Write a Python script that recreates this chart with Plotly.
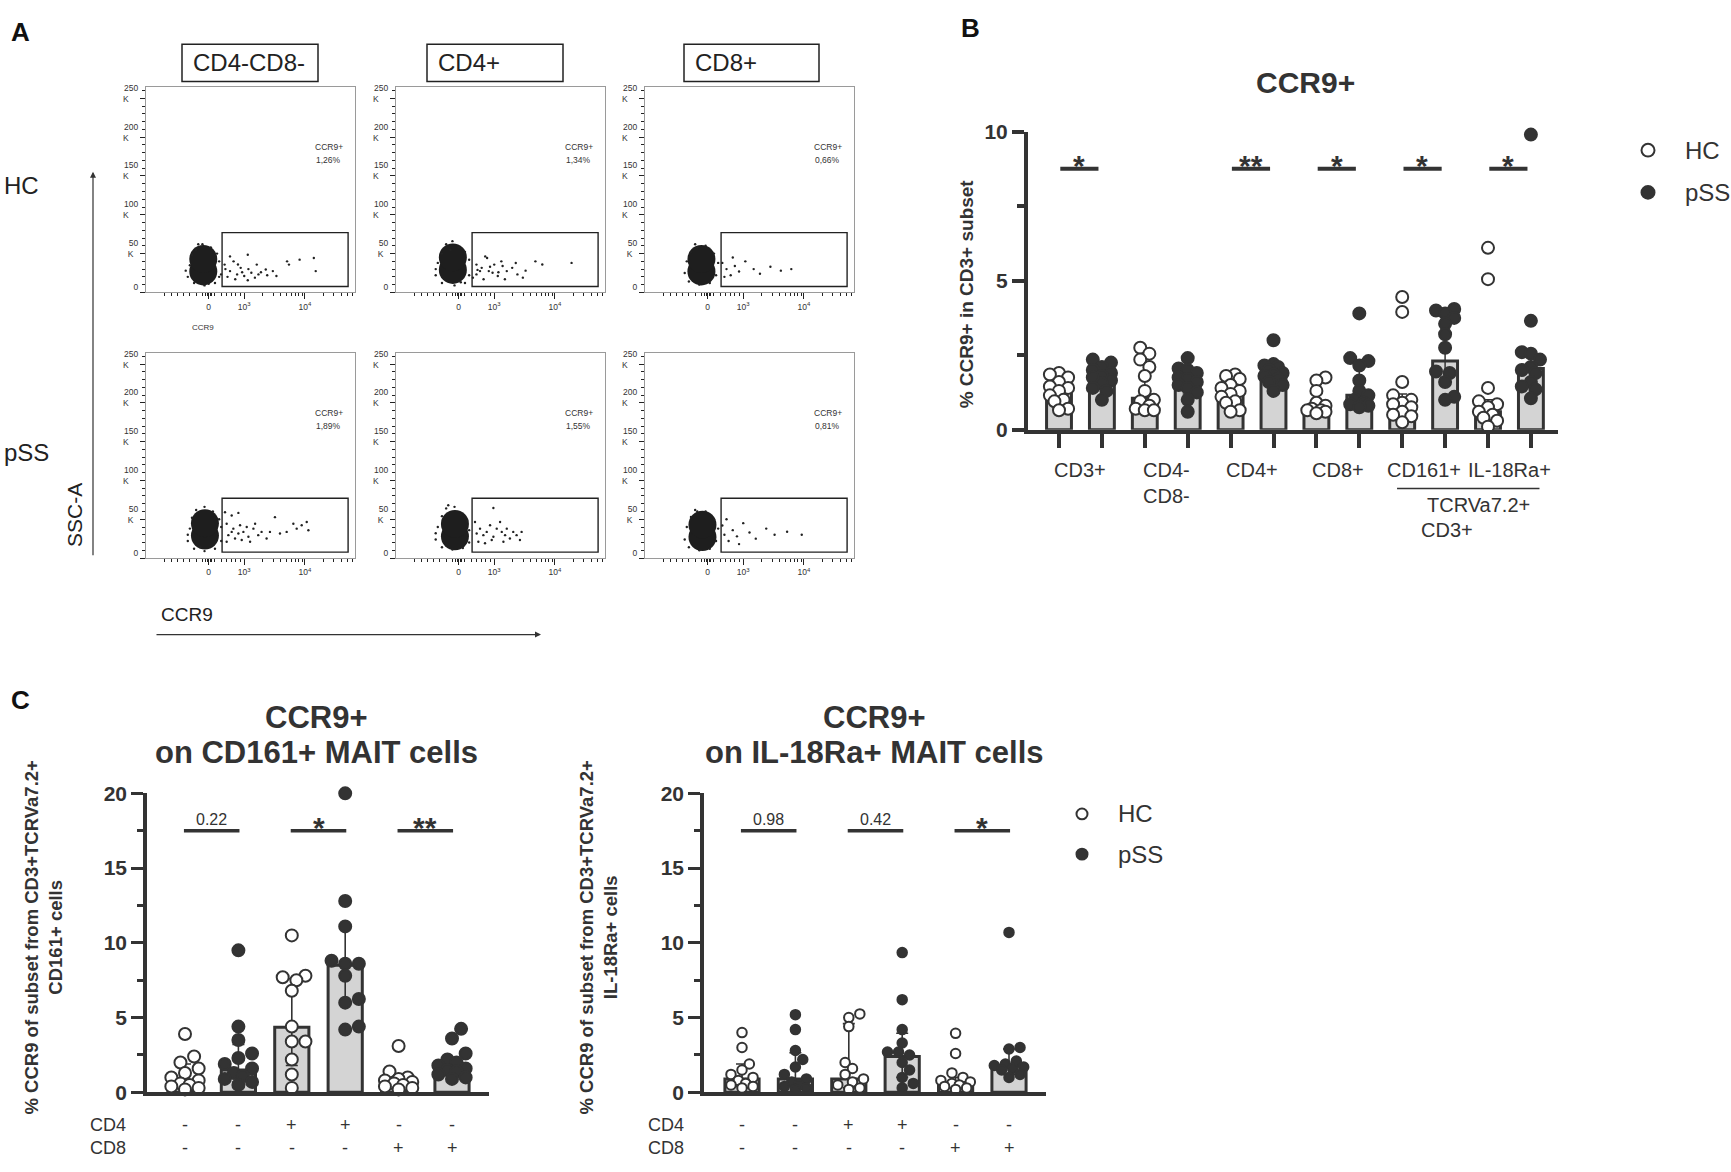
import plotly.graph_objects as go

W, H = 1731, 1172
DARK = '#333333'
BARFILL = '#d4d4d4'
FONT = 'Liberation Sans, Arial, sans-serif'

# ================= Panel A : flow cytometry (CCR9 vs SSC-A) =================
FLOW_COLUMNS = ['CD4-CD8-', 'CD4+', 'CD8+']
FLOW_ROWS = ['HC', 'pSS']
FLOW_PCT = ['1,26%', '1,34%', '0,66%', '1,89%', '1,55%', '0,81%']
FLOW_Y_TICKS = [0, 50, 100, 150, 200, 250]
FLOW_Y_LABELS = ['0', '50<br>K', '100<br>K', '150<br>K', '200<br>K', '250<br>K']
FLOW_X_TICKS = [30, 47, 76]
FLOW_X_LABELS = ['0', '10<sup>3</sup>', '10<sup>4</sup>']
FLOW_X_MINOR = [9, 12, 15, 18, 21, 24, 27, 28.6, 29.3, 30.7, 31.4, 33, 36, 38.5, 41, 43, 45,
                55.7, 60.8, 64.5, 67.3, 69.6, 71.5, 73.2, 74.7, 84.7, 89.8, 93.5, 96.3, 98.6]
GATE_X = [36.4, 96.7]
GATE_Y = [7.6, 77.0]
BLOB_X = [27.4, 27.2, 27.0, 28.2, 28.2, 27.5]
BLOB_Y = [35, 37, 35, 37, 36, 35]

EV1_X = [20, 21, 22, 24, 27, 31, 34, 35, 35, 33, 28, 23, 19, 25, 30,
         37.6, 40.2, 41.9, 43.6, 45.3, 47.0, 48.7, 50.4, 52.1, 53.8, 57.3, 60.7, 62.4, 67.5, 68.4,
         73.5, 80.3, 81.2, 40.2, 42.7, 48.7, 53.0, 35.9, 38, 39, 44, 46, 49, 55, 58]
EV1_Y = [20, 35, 48, 55, 62, 58, 50, 40, 20, 12, 9, 12, 28, 62, 11,
         35.8, 27.4, 40.0, 23.2, 31.6, 21.1, 48.5, 25.3, 19.0, 23.2, 29.5, 27.4, 21.1, 40.0, 35.8,
         42.2, 44.3, 27.4, 46.4, 16.9, 15.6, 35.8, 23.2, 30, 20, 36, 26, 30, 26, 22]
EV2_X = [19, 20, 22, 24, 27, 30, 33, 35, 35, 33, 28, 22, 19, 26, 31,
         38.5, 41.0, 43.6, 44.4, 47.0, 48.7, 50.4, 53.0, 55.6, 57.3, 58.1, 60.7, 66.7, 38.5, 41.9,
         46.2, 52.1, 42.7, 40.2, 36.8, 39, 45, 49, 51, 62, 70, 84]
EV2_Y = [22, 38, 50, 62, 66, 58, 52, 42, 22, 12, 9, 12, 30, 55, 13,
         23.2, 31.6, 44.3, 27.4, 35.8, 21.1, 40.0, 27.4, 31.6, 37.9, 23.2, 19.0, 40.0, 35.8, 16.9,
         25.3, 16.9, 46.4, 27.4, 19.0, 29, 33, 26, 34, 28, 36, 38]
EV3_X = [19, 20, 22, 25, 29, 33, 35, 34, 31, 26, 21, 24,
         37, 39, 41, 43, 45, 48, 52, 55, 60, 65, 70, 38, 42]
EV3_Y = [25, 40, 52, 58, 60, 50, 38, 22, 12, 10, 14, 62,
         38, 30, 22, 34, 27, 40, 30, 24, 33, 28, 30, 20, 45]
EV4_X = [20, 21, 22, 24, 28, 32, 35, 36, 36, 33, 28, 23, 20, 26,
         37.8, 41.0, 44.2, 38.6, 41.8, 45.0, 46.6, 48.2, 51.4, 53.7, 55.3, 57.7, 59.3, 61.7, 64.1,
         67.3, 70.5, 72.1, 74.5, 76.9, 77.7, 39.4, 42.6, 45.8, 49.0, 52.2, 41.0, 44.2, 38.6, 49.8]
EV4_Y = [22, 38, 52, 62, 66, 60, 50, 40, 22, 12, 9, 12, 30, 14,
         59.0, 54.8, 58.2, 44.3, 37.9, 42.2, 33.7, 40.0, 37.9, 29.5, 33.7, 25.3, 33.7, 52.7, 31.6,
         33.7, 44.3, 37.9, 42.2, 46.4, 35.8, 29.5, 25.3, 23.2, 27.4, 44.3, 33.7, 31.6, 21.1, 21.1]
EV5_X = [19, 20, 22, 24, 28, 31, 34, 35, 35, 32, 27, 22, 19, 25,
         38.6, 40.2, 41.8, 43.4, 45.0, 46.6, 46.6, 48.2, 49.8, 50.6, 52.2, 53.0, 54.5, 56.1, 57.7,
         59.3, 60.1, 39.4, 42.6, 45.8, 37.8, 51.4]
EV5_Y = [24, 40, 54, 64, 66, 56, 48, 36, 20, 13, 11, 14, 32, 68,
         31.6, 37.9, 29.5, 33.7, 42.2, 64.5, 27.4, 37.9, 46.4, 33.7, 29.5, 37.9, 25.3, 33.7, 29.5,
         23.2, 33.7, 21.1, 19.0, 23.2, 46.4, 21.1]
EV6_X = [19, 20, 22, 25, 29, 33, 35, 34, 31, 26, 21, 24,
         37, 38, 40, 42, 44, 47, 50, 53, 58, 62, 68, 75, 39, 45]
EV6_Y = [24, 40, 53, 60, 60, 50, 38, 22, 12, 10, 14, 62,
         42, 30, 22, 36, 28, 45, 33, 25, 38, 30, 34, 30, 50, 18]
FLOW_EVENTS = [(EV1_X, EV1_Y), (EV2_X, EV2_Y), (EV3_X, EV3_Y),
               (EV4_X, EV4_Y), (EV5_X, EV5_Y), (EV6_X, EV6_Y)]

# ================= Panel B : % CCR9+ in CD3+ subsets =================
B_CATS = ['CD3+', 'CD4-<br>CD8-', 'CD4+', 'CD8+', 'CD161+', 'IL-18Ra+']
B_HC_BAR = [1.3, 1.05, 1.3, 0.65, 0.75, 0.6]
B_PSS_BAR = [1.75, 1.6, 1.75, 1.15, 2.3, 2.05]
B_HC_UP = [1.75, 1.9, 1.7, 1.25, 1.2, 1.0]
B_HC_LO = [0.95, 0.7, 0.95, 0.6, 0.5, 0.35]
B_PSS_UP = [2.05, 1.95, 2.05, 2.2, 3.6, 2.55]
B_PSS_LO = [1.45, 1.2, 1.6, 0.85, 1.5, 1.55]
B_HC_PTS = [
    [1.9, 1.85, 1.75, 1.6, 1.45, 1.4, 1.3, 1.15, 1.0, 0.95, 0.7, 0.65],
    [2.75, 2.55, 2.35, 2.1, 1.8, 1.3, 1.0, 0.95, 0.8, 0.7, 0.65, 0.65],
    [1.85, 1.8, 1.7, 1.5, 1.4, 1.3, 1.2, 1.1, 0.95, 0.9, 0.65, 0.6],
    [1.75, 1.65, 1.3, 0.9, 0.8, 0.7, 0.65, 0.65, 0.6, 0.55],
    [4.45, 3.95, 1.6, 1.15, 1.0, 0.9, 0.85, 0.75, 0.6, 0.5, 0.45, 0.25],
    [6.1, 5.05, 1.4, 0.95, 0.85, 0.75, 0.6, 0.5, 0.4, 0.3, 0.1],
]
B_PSS_PTS = [
    [2.35, 2.25, 2.1, 2.0, 1.9, 1.8, 1.75, 1.65, 1.55, 1.4, 1.3, 1.0],
    [2.4, 2.05, 2.0, 1.9, 1.75, 1.7, 1.6, 1.5, 1.4, 1.25, 1.0, 0.6],
    [3.0, 2.2, 2.15, 2.1, 2.0, 1.9, 1.85, 1.8, 1.7, 1.6, 1.5, 1.3],
    [3.9, 2.4, 2.3, 2.15, 1.65, 1.3, 1.15, 1.0, 0.9, 0.85, 0.8, 0.75],
    [4.05, 4.0, 3.9, 3.75, 3.55, 3.2, 2.75, 1.95, 1.9, 1.6, 1.1, 1.0],
    [9.9, 3.65, 2.6, 2.55, 2.35, 2.1, 2.0, 1.9, 1.6, 1.45, 1.35, 1.05],
]
B_SIG = ['*', '', '**', '*', '*', '*']
B_SIG_Y = 8.75
B_Y_TICKS = [0, 5, 10]

# ================= Panel C : CCR9+ on MAIT subsets =================
C_CD4 = ['-', '-', '+', '+', '-', '-']
C_CD8 = ['-', '-', '-', '-', '+', '+']
C_GROUP = ['HC', 'pSS', 'HC', 'pSS', 'HC', 'pSS']
C_Y_TICKS = [0, 5, 10, 15, 20]
C_SIG_Y = 17.5

C1_TITLE = ['CCR9+', 'on CD161+ MAIT cells']
C1_YTITLE = '% CCR9 of subset from CD3+TCRVa7.2+<br>CD161+ cells'
C1_BAR = [0.8, 1.5, 4.35, 8.5, 0.6, 1.5]
C1_UP = [1.9, 3.2, 7.6, 11.1, 1.0, 2.3]
C1_LO = [0.3, 0.7, 1.8, 6.0, 0.3, 1.0]
C1_PTS = [
    [3.9, 2.4, 2.0, 1.6, 1.3, 1.0, 0.8, 0.6, 0.5, 0.4, 0.3, 0.2],
    [9.5, 4.4, 3.5, 2.6, 2.3, 1.9, 1.6, 1.3, 1.1, 0.9, 0.7, 0.5],
    [10.5, 7.8, 7.7, 7.5, 6.8, 4.4, 3.4, 3.4, 2.2, 1.2, 0.3],
    [20.0, 12.8, 11.1, 8.8, 8.6, 8.6, 7.8, 6.25, 6.0, 4.4, 4.2],
    [3.1, 1.4, 1.0, 0.9, 0.8, 0.7, 0.6, 0.5, 0.4, 0.3, 0.2],
    [4.25, 3.6, 2.6, 2.2, 2.0, 1.8, 1.6, 1.5, 1.4, 1.2, 1.0, 0.9],
]
C1_SIG = ['0.22', '*', '**']

C2_TITLE = ['CCR9+', 'on IL-18Ra+ MAIT cells']
C2_YTITLE = '% CCR9 of subset from CD3+TCRVa7.2+<br>IL-18Ra+ cells'
C2_BAR = [0.9, 0.9, 0.9, 2.4, 0.6, 1.8]
C2_UP = [1.9, 2.65, 4.6, 3.95, 1.0, 2.9]
C2_LO = [0.4, 0.4, 0.3, 1.0, 0.3, 1.2]
C2_PTS = [
    [4.0, 3.0, 1.9, 1.5, 1.2, 1.0, 0.8, 0.6, 0.5, 0.4, 0.3],
    [5.2, 4.2, 2.8, 2.2, 1.7, 1.2, 0.9, 0.7, 0.5, 0.4, 0.3, 0.2],
    [5.25, 5.0, 4.4, 2.0, 1.6, 1.2, 0.9, 0.7, 0.5, 0.3, 0.2],
    [9.35, 6.2, 4.2, 3.3, 2.7, 2.7, 2.5, 2.0, 1.5, 1.0, 0.6, 0.3],
    [3.95, 2.6, 1.3, 1.0, 0.8, 0.7, 0.6, 0.5, 0.4, 0.3, 0.2],
    [10.7, 3.0, 2.9, 2.1, 1.9, 1.8, 1.7, 1.6, 1.5, 1.2, 1.0],
]
C2_SIG = ['0.98', '0.42', '*']


# ---------------------------------------------------------------- helpers
def px(x):
    return x / W


def py(y):
    return 1 - y / H


def sfx(n):
    return '' if n == 1 else str(n)


def swarm(vals, ppx, ppy, diam, maxoff, thr=0.8):
    """deterministic beeswarm offsets (layout only)"""
    step = diam * 0.35 / ppx
    cands = [0.0]
    k = 1
    while k * step <= maxoff + 1e-9:
        cands += [k * step, -k * step]
        k += 1
    order = sorted(range(len(vals)), key=lambda i: vals[i])
    placed, res = [], [0.0] * len(vals)
    for i in order:
        yp = vals[i] * ppy
        best, bestd, bestc = None, -1, 0.0
        for o in cands:
            d = min([(((o - po) * ppx) ** 2 + (yp - yy) ** 2) ** 0.5 for po, yy in placed] or [1e9])
            if d >= diam * thr:
                best = o
                break
            if d > bestd:
                bestd, bestc = d, o
        res[i] = best if best is not None else bestc
        placed.append((res[i], yp))
    return res


fig = go.Figure()
layout = dict(width=W, height=H, margin=dict(l=0, r=0, t=0, b=0, pad=0),
              paper_bgcolor='white', plot_bgcolor='white', showlegend=False,
              font=dict(family=FONT, color=DARK))
shapes, anns = [], []


def ann(text, x, y, size, xanchor='center', yanchor='middle', angle=0, xref='paper', yref='paper',
        color=DARK, yshift=0, xshift=0):
    anns.append(dict(text=text, x=px(x) if xref == 'paper' else x, y=py(y) if yref == 'paper' else y,
                     xref=xref, yref=yref, showarrow=False, xanchor=xanchor, yanchor=yanchor,
                     textangle=angle, font=dict(size=size, color=color, family=FONT),
                     yshift=yshift, xshift=xshift))


# ================================================================ Panel A
FLOW_LEFT = [146, 396, 645]
FLOW_TOP = [77, 348]
FLOW_SIZE = 209
FRAME = '#9a9a9a'
y_labels_aligned = [FLOW_Y_LABELS[0]] + [t + '\u00a0' * (2 if len(t.split('<br>')[0]) == 2 else 4)
                                         for t in FLOW_Y_LABELS[1:]]
for r in range(2):
    for c in range(3):
        n = r * 3 + c + 1
        s = sfx(n)
        x0, y0 = FLOW_LEFT[c], FLOW_TOP[r]
        layout['xaxis' + s] = dict(domain=[px(x0), px(x0 + FLOW_SIZE)], range=[0, 100], anchor='y' + s,
                                   showline=True, mirror=True, linecolor=FRAME, linewidth=1.2,
                                   showgrid=False, zeroline=False, ticks='outside', tickvals=FLOW_X_TICKS,
                                   ticktext=FLOW_X_LABELS, ticklen=6, tickwidth=1.2, tickcolor='#222',
                                   tickfont=dict(size=8.5, color='#333'),
                                   minor=dict(tickvals=FLOW_X_MINOR, ticklen=3, tickwidth=1,
                                              tickcolor='#222', ticks='outside', showgrid=False),
                                   fixedrange=True)
        layout['yaxis' + s] = dict(domain=[py(y0 + FLOW_SIZE), py(y0)], range=[0, 264], anchor='x' + s,
                                   showline=True, mirror=True, linecolor=FRAME, linewidth=1.2,
                                   showgrid=False, zeroline=False, ticks='outside', tickvals=FLOW_Y_TICKS,
                                   ticktext=y_labels_aligned, ticklen=5, tickwidth=1.2, tickcolor='#222',
                                   tickfont=dict(size=8.5, color='#333'), ticklabelshift=-5,
                                   minor=dict(dtick=10, ticklen=3, tickwidth=1, tickcolor='#222',
                                              ticks='outside', showgrid=False),
                                   fixedrange=True)
        # dense core of the population
        fig.add_trace(go.Scatter(x=[BLOB_X[n - 1], BLOB_X[n - 1]], y=[BLOB_Y[n - 1] - 8, BLOB_Y[n - 1] + 8],
                                 mode='markers', marker=dict(size=28, color='#1e1e1e', line=dict(width=0)),
                                 xaxis='x' + s, yaxis='y' + s, hoverinfo='skip'))
        ex, ey = FLOW_EVENTS[n - 1]
        fig.add_trace(go.Scatter(x=ex, y=ey, mode='markers',
                                 marker=dict(size=2.4, color='#222', line=dict(width=0)),
                                 xaxis='x' + s, yaxis='y' + s, hoverinfo='skip'))
        shapes.append(dict(type='rect', xref='x' + s, yref='y' + s, x0=GATE_X[0], x1=GATE_X[1],
                           y0=GATE_Y[0], y1=GATE_Y[1], line=dict(color='#222', width=1.4)))
        ann('CCR9+', 87.5, 187, 8.5, xref='x' + s, yref='y' + s, color='#333')
        ann(FLOW_PCT[n - 1], 87.5, 170, 8.5, xref='x' + s, yref='y' + s, color='#333')

# column header boxes
HEAD_BOX = [(182, 318), (427, 563), (684, 819)]
for (bx0, bx1), name in zip(HEAD_BOX, FLOW_COLUMNS):
    shapes.append(dict(type='rect', xref='paper', yref='paper', x0=px(bx0), x1=px(bx1),
                       y0=py(71), y1=py(33), line=dict(color='#222', width=1.5)))
    ann(name, bx0 + 9, 52, 24, xanchor='left', color='#222')
ann(FLOW_ROWS[0], 2, 177, 24, xanchor='left', color='#222')
ann(FLOW_ROWS[1], 2, 449, 24, xanchor='left', color='#222')
ann('CCR9', 203, 322, 8, color='#333')
ann('SSC-A', 75, 513, 21, angle=-90, color='#222')
ann('CCR9', 159, 615, 19, xanchor='left', color='#222')
anns.append(dict(text='', x=px(93), y=py(163), ax=0, ay=548 - 163, xref='paper', yref='paper',
                 axref='pixel', ayref='pixel', showarrow=True, arrowhead=2, arrowsize=1,
                 arrowwidth=1.2, arrowcolor='#333'))
anns.append(dict(text='', x=px(541), y=py(635), ax=-(541 - 155), ay=0, xref='paper', yref='paper',
                 axref='pixel', ayref='pixel', showarrow=True, arrowhead=2, arrowsize=1,
                 arrowwidth=1.2, arrowcolor='#333'))
ann('<b>A</b>', 20, 20, 26, color='#111')

# ================================================================ Panel B
B_X0, B_X1, B_Y0PX, B_Y10PX = 1028, 1558, 426, 122
B_FIRST, B_STEP = 1059, 42.9
b_range = [(B_X0 - B_FIRST) / B_STEP, (B_X1 - B_FIRST) / B_STEP]
B_PPY = (B_Y0PX - B_Y10PX) / 10.0
layout['xaxis7'] = dict(domain=[px(B_X0), px(B_X1)], range=b_range, anchor='y7', showline=True,
                        linewidth=4, linecolor=DARK, ticks='outside', tickvals=list(range(12)),
                        ticklen=14, tickwidth=3.5, tickcolor=DARK, showticklabels=False,
                        showgrid=False, zeroline=False, fixedrange=True)
layout['yaxis7'] = dict(domain=[py(B_Y0PX), py(B_Y10PX)], range=[0, 10], anchor='x7', showline=True,
                        linewidth=4, linecolor=DARK, ticks='outside', tickvals=B_Y_TICKS,
                        ticktext=['<b>%d</b>' % v for v in B_Y_TICKS], ticklen=12, tickwidth=3.5,
                        tickcolor=DARK, tickfont=dict(size=21, color=DARK),
                        minor=dict(tickvals=[2.5, 7.5], ticklen=7, tickwidth=3.5, tickcolor=DARK,
                                   ticks='outside', showgrid=False),
                        showgrid=False, zeroline=False, fixedrange=True)
b_idx, b_val, b_up, b_lo = [], [], [], []
for k in range(6):
    b_idx += [2 * k, 2 * k + 1]
    b_val += [B_HC_BAR[k], B_PSS_BAR[k]]
    b_up += [B_HC_UP[k] - B_HC_BAR[k], B_PSS_UP[k] - B_PSS_BAR[k]]
    b_lo += [B_HC_BAR[k] - B_HC_LO[k], B_PSS_BAR[k] - B_PSS_LO[k]]
fig.add_trace(go.Bar(x=b_idx, y=b_val, width=0.58, xaxis='x7', yaxis='y7',
                     marker=dict(color=BARFILL, line=dict(color=DARK, width=3)),
                     error_y=dict(type='data', symmetric=False, array=b_up, arrayminus=b_lo,
                                  color=DARK, thickness=1.5, width=5)))
for k in range(6):
    for g, pts in ((0, B_HC_PTS[k]), (1, B_PSS_PTS[k])):
        offs = swarm(pts, B_STEP, B_PPY, 13, 0.26, thr=0.75)
        fig.add_trace(go.Scatter(
            x=[2 * k + g + o for o in offs], y=pts, mode='markers', xaxis='x7', yaxis='y7',
            cliponaxis=False,
            marker=dict(size=12, color='white' if g == 0 else DARK, line=dict(color=DARK, width=2))))
for k, sig in enumerate(B_SIG):
    if not sig:
        continue
    shapes.append(dict(type='line', xref='x7', yref='y7', x0=2 * k + 0.03, x1=2 * k + 0.92,
                       y0=B_SIG_Y, y1=B_SIG_Y, line=dict(color=DARK, width=4)))
    ann('<b>%s</b>' % sig, 2 * k + 0.47, B_SIG_Y, 30, xref='x7', yref='y7', yanchor='bottom', yshift=-15)
for k, cat in enumerate(B_CATS):
    ann(cat, 2 * k + 0.5, 454, 20, xref='x7', yanchor='top')
shapes.append(dict(type='line', xref='x7', yref='paper', x0=7.88, x1=11.2, y0=py(486), y1=py(486),
                   line=dict(color=DARK, width=1.5)))
ann('TCRVa7.2+', 1425, 503, 20, xanchor='left')
ann('CD3+', 1419, 528, 20, xanchor='left')
ann('<b>CCR9+</b>', 1305, 72, 30)
ann('<b>% CCR9+ in CD3+ subset</b>', 966, 287, 19, angle=-90)
ann('<b>B</b>', 971, 16, 26, color='#111')
# legend B
for cy, name, fill in ((141, 'HC', 'white'), (184, 'pSS', DARK)):
    shapes.append(dict(type='circle', xref='paper', yref='paper', x0=px(1648 - 6.5), x1=px(1648 + 6.5),
                       y0=py(cy + 6.5), y1=py(cy - 6.5), fillcolor=fill, line=dict(color=DARK, width=2)))
    ann(name, 1683, cy, 24, xanchor='left')

# ================================================================ Panel C
C_Y0PX, C_Y20PX = 1102, 797
C_PPY = (C_Y0PX - C_Y20PX) / 20.0
C_STEP = 53.4
PANELS_C = [
    dict(n=8, axis_x=147, first=185, title=C1_TITLE, tx=316, ytitle=C1_YTITLE, ytx=43,
         bar=C1_BAR, up=C1_UP, lo=C1_LO, pts=C1_PTS, sig=C1_SIG, msize=12, rowx=88),
    dict(n=9, axis_x=704, first=742, title=C2_TITLE, tx=874, ytitle=C2_YTITLE, ytx=598,
         bar=C2_BAR, up=C2_UP, lo=C2_LO, pts=C2_PTS, sig=C2_SIG, msize=9.5, rowx=646),
]
for P in PANELS_C:
    n = P['n']
    s = str(n)
    x_end = P['axis_x'] + 342
    rng = [(P['axis_x'] - P['first']) / C_STEP, (x_end - P['first']) / C_STEP]
    layout['xaxis' + s] = dict(domain=[px(P['axis_x']), px(x_end)], range=rng, anchor='y' + s,
                               showline=True, linewidth=3.5, linecolor=DARK, ticks='',
                               showticklabels=False, showgrid=False, zeroline=False, fixedrange=True)
    layout['yaxis' + s] = dict(domain=[py(C_Y0PX), py(C_Y20PX)], range=[0, 20], anchor='x' + s,
                               showline=True, linewidth=3.5, linecolor=DARK, ticks='outside',
                               tickvals=C_Y_TICKS, ticktext=['<b>%d</b>' % v for v in C_Y_TICKS],
                               ticklen=12, tickwidth=3, tickcolor=DARK, tickfont=dict(size=21, color=DARK),
                               minor=dict(tickvals=[2.5, 7.5, 12.5, 17.5], ticklen=6, tickwidth=3,
                                          tickcolor=DARK, ticks='outside', showgrid=False),
                               showgrid=False, zeroline=False, fixedrange=True)
    idx = list(range(6))
    fig.add_trace(go.Bar(x=idx, y=P['bar'], width=0.64, xaxis='x' + s, yaxis='y' + s,
                         marker=dict(color=BARFILL, line=dict(color=DARK, width=3)),
                         error_y=dict(type='data', symmetric=False,
                                      array=[u - b for u, b in zip(P['up'], P['bar'])],
                                      arrayminus=[b - l for b, l in zip(P['bar'], P['lo'])],
                                      color=DARK, thickness=1.6, width=6)))
    for i in idx:
        pts = P['pts'][i]
        offs = swarm(pts, C_STEP, C_PPY, P['msize'] + 1, 0.3, thr=0.85)
        hc = C_GROUP[i] == 'HC'
        fig.add_trace(go.Scatter(
            x=[i + o for o in offs], y=pts, mode='markers', xaxis='x' + s, yaxis='y' + s, cliponaxis=False,
            marker=dict(size=P['msize'], color='white' if hc else DARK, line=dict(color=DARK, width=2))))
    for k, sig in enumerate(P['sig']):
        shapes.append(dict(type='line', xref='x' + s, yref='y' + s, x0=2 * k - 0.02, x1=2 * k + 1.02,
                           y0=C_SIG_Y, y1=C_SIG_Y, line=dict(color=DARK, width=3.5)))
        if sig.startswith('*'):
            ann('<b>%s</b>' % sig, 2 * k + 0.5, C_SIG_Y, 30, xref='x' + s, yref='y' + s,
                yanchor='bottom', yshift=-15)
        else:
            ann(sig, 2 * k + 0.5, C_SIG_Y, 16, xref='x' + s, yref='y' + s, yanchor='bottom', yshift=1)
    for i in idx:
        ann(C_CD4[i], i, 1135, 18, xref='x' + s)
        ann(C_CD8[i], i, 1159, 18, xref='x' + s)
    ann('CD4', P['rowx'], 1135, 18, xanchor='left')
    ann('CD8', P['rowx'], 1159, 18, xanchor='left')
    ann('<b>%s</b>' % P['title'][0], P['tx'], 720, 31)
    ann('<b>%s</b>' % P['title'][1], P['tx'], 755, 31)
    ann('<b>%s</b>' % P['ytitle'], P['ytx'], 944, 18.5, angle=-90)
ann('<b>C</b>', 20, 702, 26, color='#111')
# legend C
for cy, name, fill in ((818, 'HC', 'white'), (859, 'pSS', DARK)):
    shapes.append(dict(type='circle', xref='paper', yref='paper', x0=px(1082 - 5.5), x1=px(1082 + 5.5),
                       y0=py(cy + 5.5), y1=py(cy - 5.5), fillcolor=fill, line=dict(color=DARK, width=2)))
    ann(name, 1116, cy, 24, xanchor='left')

layout['shapes'] = shapes
layout['annotations'] = anns
fig.update_layout(**layout)
fig.write_html("out.html", config={'displayModeBar': False},
               post_script="document.body.style.margin='0px';document.body.style.overflow='hidden';")
